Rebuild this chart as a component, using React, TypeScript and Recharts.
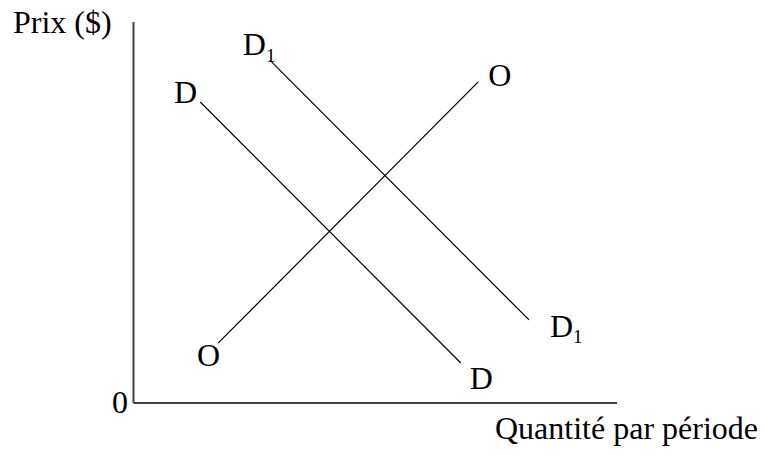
import React from 'react';
import { ComposedChart, Line, XAxis, YAxis, Label } from 'recharts';

// Quantity (x) and price (y) in arbitrary units 0..100
const supplyQ = [17.5, 71.3];
const supplyP = [15.7, 84.3];
const demandQ = [13.8, 67.7];
const demandP = [79.0, 10.5];
const demand1Q = [28.2, 81.8];
const demand1P = [90.0, 21.8];

const supplyLabels = ['O', 'O'];
const demandLabels = ['D', 'D'];
const demand1Labels = ['D', 'D'];
const demand1Sub = '1';
const yTicks = [0];
const yTitle = 'Prix ($)';
const xTitle = 'Quantité par période';

const FONT = '"Liberation Serif", "Times New Roman", serif';
const FS = 32;

const toData = (qs: number[], ps: number[]) => qs.map((q, i) => ({ q, p: ps[i] }));
const supplyData = toData(supplyQ, supplyP);
const demandData = toData(demandQ, demandP);
const demand1Data = toData(demand1Q, demand1P);

const supplyLabel = (props: any) => {
  const { x, y, index } = props;
  if (index === 0) {
    return (
      <text key={`s${index}`} x={x - 21} y={y + 23} fontFamily={FONT} fontSize={FS} fill="#000">
        {supplyLabels[index]}
      </text>
    );
  }
  return (
    <text key={`s${index}`} x={x + 10} y={y + 4} fontFamily={FONT} fontSize={FS} fill="#000">
      {supplyLabels[index]}
    </text>
  );
};

const demandLabel = (props: any) => {
  const { x, y, index } = props;
  if (index === 0) {
    return (
      <text key={`d${index}`} x={x - 3} y={y + 1} textAnchor="end" fontFamily={FONT} fontSize={FS} fill="#000">
        {demandLabels[index]}
      </text>
    );
  }
  return (
    <text key={`d${index}`} x={x + 9} y={y + 26} fontFamily={FONT} fontSize={FS} fill="#000">
      {demandLabels[index]}
    </text>
  );
};

const demand1Label = (props: any) => {
  const { x, y, index } = props;
  const tx = index === 0 ? x - 27 : x + 21;
  const ty = index === 0 ? y - 5 : y + 17;
  const sub = index === 0 ? 7 : 6;
  return (
    <text key={`d1${index}`} x={tx} y={ty} fontFamily={FONT} fontSize={FS} fill="#000">
      {demand1Labels[index]}
      <tspan dy={sub} fontSize={19}>{demand1Sub}</tspan>
    </text>
  );
};

const YTitle = (props: any) => {
  const vb = props.viewBox || {};
  return (
    <text x={vb.x + vb.width - 120.5} y={vb.y + 11} fontFamily={FONT} fontSize={FS} fill="#000">
      {yTitle}
    </text>
  );
};

const XTitle = (props: any) => {
  const vb = props.viewBox || {};
  return (
    <text x={vb.x + 361.5} y={vb.y + 36} fontFamily={FONT} fontSize={FS} fill="#000">
      {xTitle}
    </text>
  );
};

const YTick = (props: any) => {
  const { x, y, payload } = props;
  return (
    <text x={x} y={y + 10} textAnchor="end" fontFamily={FONT} fontSize={FS} fill="#000">
      {payload.value}
    </text>
  );
};

export default function App() {
  return (
    <div style={{ position: 'absolute', left: 0, top: 0, width: 765, height: 455, background: '#fff' }}>
      <ComposedChart
        width={765}
        height={455}
        margin={{ top: 22, right: 148, bottom: 51, left: 132.5 }}
      >
        <XAxis
          type="number"
          dataKey="q"
          domain={[0, 100]}
          ticks={[0, 100]}
          tick={false}
          tickLine={false}
          height={1}
          axisLine={{ stroke: '#404040', strokeWidth: 2 }}
          allowDataOverflow
        >
          <Label content={<XTitle />} />
        </XAxis>
        <YAxis
          type="number"
          dataKey="p"
          domain={[0, 100]}
          ticks={yTicks}
          tick={<YTick />}
          tickLine={false}
          tickSize={0}
          tickMargin={5.5}
          width={1}
          axisLine={{ stroke: '#404040', strokeWidth: 2 }}
          allowDataOverflow
        >
          <Label content={<YTitle />} />
        </YAxis>
        <Line
          data={supplyData}
          dataKey="p"
          type="linear"
          stroke="#000"
          strokeWidth={1.2}
          dot={false}
          isAnimationActive={false}
          label={supplyLabel}
        />
        <Line
          data={demandData}
          dataKey="p"
          type="linear"
          stroke="#000"
          strokeWidth={1.2}
          dot={false}
          isAnimationActive={false}
          label={demandLabel}
        />
        <Line
          data={demand1Data}
          dataKey="p"
          type="linear"
          stroke="#000"
          strokeWidth={1.2}
          dot={false}
          isAnimationActive={false}
          label={demand1Label}
        />
      </ComposedChart>
    </div>
  );
}
